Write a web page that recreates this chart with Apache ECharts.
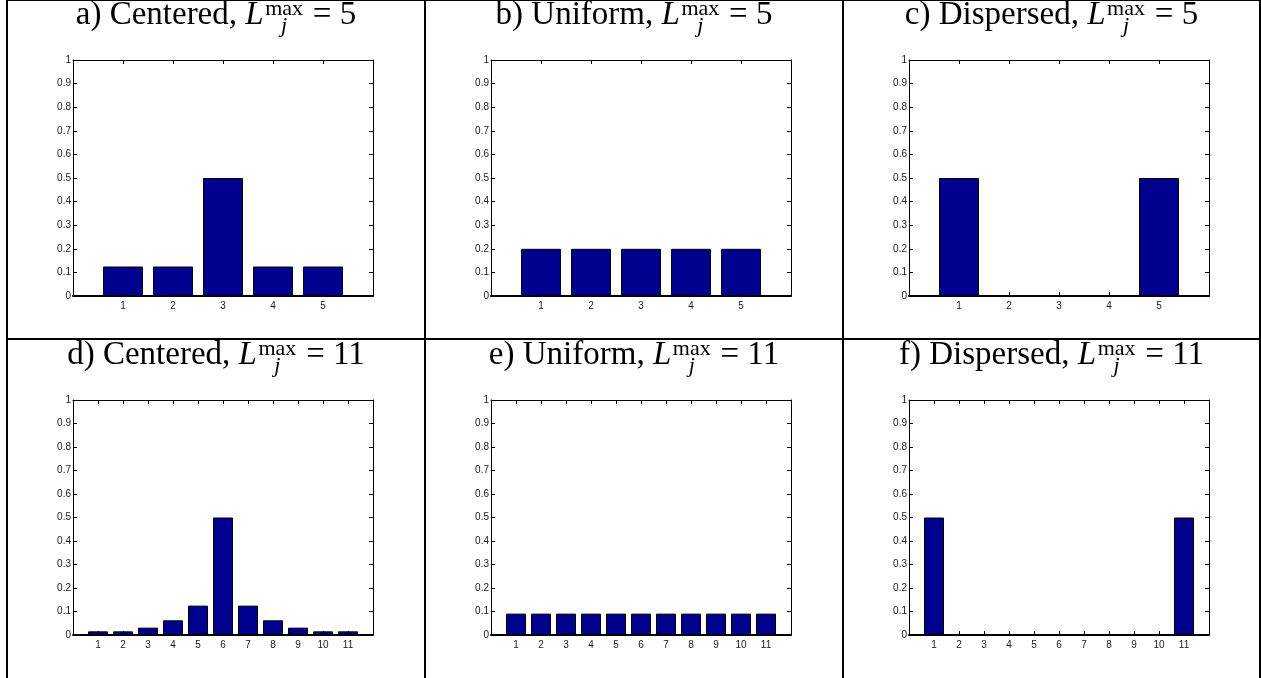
<!DOCTYPE html>
<html><head><meta charset="utf-8">
<script src="https://cdn.jsdelivr.net/npm/echarts@6/dist/echarts.min.js"></script>
<style>html,body{margin:0;padding:0;background:#fff;}#c{width:1261px;height:678px;}</style>
</head><body><div id="c"></div>
<script>
// ---- data ----
const catsFive = [1, 2, 3, 4, 5];
const catsEleven = [1, 2, 3, 4, 5, 6, 7, 8, 9, 10, 11];
const centeredFive = [0.125, 0.125, 0.5, 0.125, 0.125];
const uniformFive = [0.2, 0.2, 0.2, 0.2, 0.2];
const dispersedFive = [0.5, 0, 0, 0, 0.5];
const centeredEleven = [0.015625, 0.015625, 0.03125, 0.0625, 0.125, 0.5, 0.125, 0.0625, 0.03125, 0.015625, 0.015625];
const uniformEleven = [0.0909, 0.0909, 0.0909, 0.0909, 0.0909, 0.0909, 0.0909, 0.0909, 0.0909, 0.0909, 0.0909];
const dispersedEleven = [0.5, 0, 0, 0, 0, 0, 0, 0, 0, 0, 0.5];
const panelLabels = ['a)', 'b)', 'c)', 'd)', 'e)', 'f)'];
const panelNames = ['Centered', 'Uniform', 'Dispersed', 'Centered', 'Uniform', 'Dispersed'];
const panelLmax = ['5', '5', '5', '11', '11', '11'];
const yMin = 0, yMax = 1, yStep = 0.1;

const panelCats = [catsFive, catsFive, catsFive, catsEleven, catsEleven, catsEleven];
const panelVals = [centeredFive, uniformFive, dispersedFive, centeredEleven, uniformEleven, dispersedEleven];

// ---- layout ----
const colLeft = [73, 491, 909];
const rowTop = [60, 400];
const gridW = 300;
const gridH = [236, 235];
const cellCenter = [216, 634, 1051.5];
const titleTop = [0, 340];

const serif = '"Liberation Serif", "Times New Roman", serif';
const sans = '"Liberation Sans", Arial, Helvetica, sans-serif';
const MAIN = 33, SCRIPT = 22, LH = 30, SW = 41;
const clear = 'rgba(0,0,0,0)';
const rich = {
  r:  {fontFamily: serif, fontSize: MAIN, lineHeight: LH, color: '#000', fontWeight: 'normal'},
  i:  {fontFamily: serif, fontSize: MAIN, lineHeight: LH, color: '#000', fontStyle: 'italic', fontWeight: 'normal'},
  ws: {fontFamily: serif, fontSize: SCRIPT, lineHeight: LH, color: clear, width: SW, align: 'left', fontWeight: 'normal'},
  rt: {fontFamily: serif, fontSize: MAIN, lineHeight: LH, color: clear, fontWeight: 'normal'},
  it: {fontFamily: serif, fontSize: MAIN, lineHeight: LH, color: clear, fontStyle: 'italic', fontWeight: 'normal'},
  s:  {fontFamily: serif, fontSize: SCRIPT, lineHeight: LH, color: '#000', width: SW, align: 'left', fontWeight: 'normal'},
  j:  {fontFamily: serif, fontSize: SCRIPT, lineHeight: LH, color: '#000', fontStyle: 'italic', width: SW, align: 'left', fontWeight: 'normal'}
};

const titles = [], grids = [], xAxes = [], yAxes = [], series = [];
for (let p = 0; p < 6; p++) {
  const col = p % 3, row = Math.floor(p / 3);
  const pre = panelLabels[p] + ' ' + panelNames[p] + ', ';
  const suf = ' = ' + panelLmax[p];
  const common = {left: cellCenter[col], textAlign: 'center', padding: 0, textStyle: {fontWeight: 'normal', rich: rich}};
  titles.push(Object.assign({}, common, {top: titleTop[row], text: '{r|' + pre + '}{i|L}{ws|max}{r|' + suf + '}'}));
  titles.push(Object.assign({}, common, {top: titleTop[row] - 6, text: '{rt|' + pre + '}{it|L}{s|max}{rt|' + suf + '}'}));
  titles.push(Object.assign({}, common, {top: titleTop[row] + 11, text: '{rt|' + pre + '}{it|L}{j|j}{rt|' + suf + '}'}));

  grids.push({left: colLeft[col], top: rowTop[row], width: gridW, height: gridH[row], containLabel: false});

  const n = panelCats[p].length;
  const xMax = n + 1;
  const tickStyle = {show: true, inside: true, length: 4, lineStyle: {color: '#000', width: 1}};
  xAxes.push({
    type: 'value', gridIndex: p, position: 'bottom', min: 0, max: xMax, interval: 1,
    axisLine: {show: true, onZero: false, lineStyle: {color: '#000', width: 2}},
    axisTick: tickStyle,
    axisLabel: {margin: 5, fontSize: 10, fontFamily: sans, color: '#1a1a1a',
      formatter: function (v) { return (v < 1 || v > n) ? '' : String(v); }},
    splitLine: {show: false}
  });
  xAxes.push({
    type: 'value', gridIndex: p, position: 'top', min: 0, max: xMax, interval: 1,
    axisLine: {show: true, onZero: false, lineStyle: {color: '#000', width: 1}},
    axisTick: tickStyle, axisLabel: {show: false}, splitLine: {show: false}
  });
  yAxes.push({
    type: 'value', gridIndex: p, position: 'left', min: yMin, max: yMax, interval: yStep,
    axisLine: {show: true, onZero: false, lineStyle: {color: '#000', width: 1}},
    axisTick: tickStyle,
    axisLabel: {margin: 2, fontSize: 10, fontFamily: sans, color: '#1a1a1a'},
    splitLine: {show: false}
  });
  yAxes.push({
    type: 'value', gridIndex: p, position: 'right', min: yMin, max: yMax, interval: yStep,
    axisLine: {show: true, onZero: false, lineStyle: {color: '#000', width: 1}},
    axisTick: tickStyle, axisLabel: {show: false}, splitLine: {show: false}
  });
  series.push({
    type: 'bar', xAxisIndex: 2 * p, yAxisIndex: 2 * p,
    barWidth: 0.8 * gridW / xMax,
    data: panelCats[p].map(function (c, k) { return [c, panelVals[p][k]]; }),
    itemStyle: {color: '#00008F', borderColor: '#000', borderWidth: 1},
    silent: true
  });
}

function line(x1, y1, x2, y2) {
  return {type: 'line', shape: {x1: x1, y1: y1, x2: x2, y2: y2}, style: {stroke: '#000', lineWidth: 2}, silent: true};
}
const borders = [
  line(6, 0, 1261, 0),
  line(7, 0, 7, 678),
  line(425, 0, 425, 678),
  line(843, 0, 843, 678),
  line(1260, 0, 1260, 678),
  line(6, 339, 1261, 339)
];

const chart = echarts.init(document.getElementById('c'), null, {renderer: 'canvas'});
chart.setOption({
  animation: false,
  backgroundColor: '#fff',
  title: titles,
  grid: grids,
  xAxis: xAxes,
  yAxis: yAxes,
  series: series,
  graphic: borders
});
</script>
</body></html>
